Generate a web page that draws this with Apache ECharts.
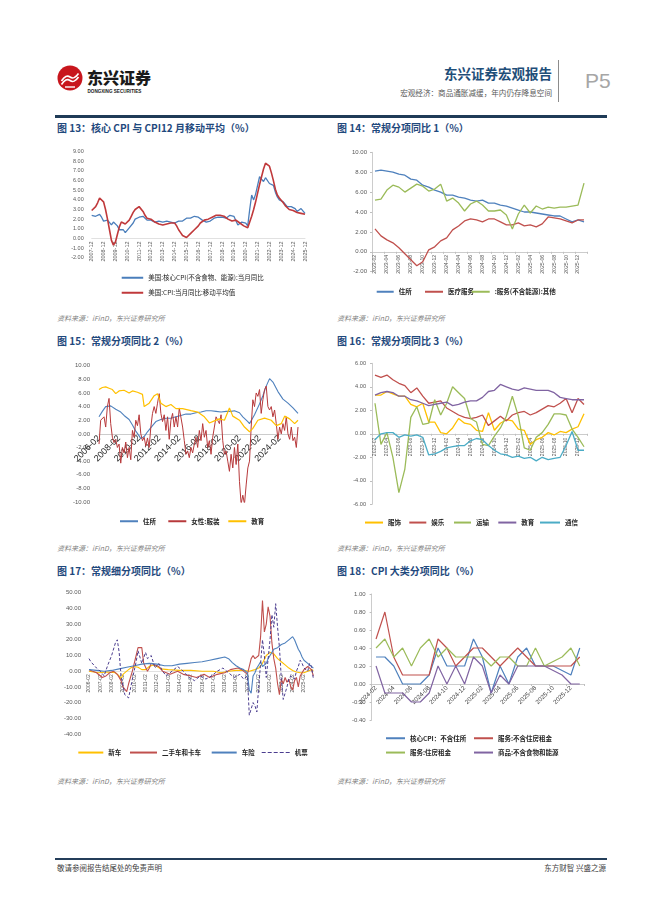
<!DOCTYPE html>
<html><head><meta charset="utf-8">
<script src="https://cdn.jsdelivr.net/npm/echarts/dist/echarts.min.js"></script>
<style>
html,body{margin:0;padding:0;background:#fff;}
body{width:662px;height:898px;position:relative;overflow:hidden;font-family:'Noto Sans CJK SC','Liberation Sans',sans-serif;}
.t{position:absolute;line-height:1;white-space:nowrap;}
.title{font-size:10px;font-weight:bold;color:#1F497D;}
.src{font-size:7px;font-style:italic;color:#7F7F7F;}
.ch{position:absolute;}
</style></head><body>
<!-- header -->
<svg class="t" style="left:57px;top:65px" width="26" height="26" viewBox="0 0 26 26">
<circle cx="13" cy="13" r="12.5" fill="#C8161D"/>
<path d="M4.5 16 Q9 9 13 12 T21.5 8.5" stroke="#fff" stroke-width="1.6" fill="none"/>
<path d="M4.5 19.5 Q9 12.5 13 15.5 T21.5 12" stroke="#fff" stroke-width="1.6" fill="none"/>
<path d="M8 22 L18 22" stroke="#fff" stroke-width="1.4"/>
</svg>
<div class="t" style="left:87px;top:69px;font-size:16px;font-weight:900;color:#1a1a1a;">东兴证券</div>
<div class="t" style="left:87.5px;top:90px;font-size:4.6px;font-weight:bold;color:#1a1a1a;font-family:'Liberation Sans',sans-serif;">DONGXING SECURITIES</div>
<div class="t" style="right:110px;top:67px;font-size:13.5px;font-weight:bold;color:#1F4E79;">东兴证券宏观报告</div>
<div class="t" style="right:110px;top:89px;font-size:7.6px;color:#595959;">宏观经济：商品通胀减缓，年内仍存降息空间</div>
<div class="t" style="left:558px;top:60px;width:1px;height:42px;background:#8C8C8C;"></div>
<div class="t" style="left:585px;top:70px;font-size:21px;color:#A6A6A6;font-family:'Liberation Sans',sans-serif;">P5</div>
<div class="t" style="left:55px;top:115px;width:552px;height:2.5px;background:#1F3B57;"></div>

<!-- titles -->
<div class="t title" style="left:57px;top:123px;">图 13：核心 CPI 与 CPI12 月移动平均（%）</div>
<div class="t title" style="left:337px;top:123px;">图 14：常规分项同比 1（%）</div>
<div class="t title" style="left:57px;top:336px;">图 15：常规分项同比 2（%）</div>
<div class="t title" style="left:337px;top:336px;">图 16：常规分项同比 3（%）</div>
<div class="t title" style="left:57px;top:566px;">图 17：常规细分项同比（%）</div>
<div class="t title" style="left:337px;top:566px;">图 18：CPI 大类分项同比（%）</div>

<div class="t src" style="left:57px;top:315px;">资料来源：iFinD，东兴证券研究所</div>
<div class="t src" style="left:337px;top:315px;">资料来源：iFinD，东兴证券研究所</div>
<div class="t src" style="left:57px;top:545px;">资料来源：iFinD，东兴证券研究所</div>
<div class="t src" style="left:337px;top:545px;">资料来源：iFinD，东兴证券研究所</div>
<div class="t src" style="left:57px;top:778px;">资料来源：iFinD，东兴证券研究所</div>
<div class="t src" style="left:337px;top:778px;">资料来源：iFinD，东兴证券研究所</div>

<div id="c13" class="ch" style="left:50px;top:140px;width:270px;height:172px;"></div>
<div id="c14" class="ch" style="left:330px;top:140px;width:280px;height:172px;"></div>
<div id="c15" class="ch" style="left:50px;top:350px;width:270px;height:192px;"></div>
<div id="c16" class="ch" style="left:330px;top:350px;width:280px;height:192px;"></div>
<div id="c17" class="ch" style="left:50px;top:580px;width:270px;height:195px;"></div>
<div id="c18" class="ch" style="left:330px;top:580px;width:280px;height:195px;"></div>

<!-- footer -->
<div class="t" style="left:55px;top:858px;width:552px;height:1.5px;background:#243E5A;"></div>
<div class="t" style="left:57px;top:863.5px;font-size:7.5px;color:#404040;">敬请参阅报告结尾处的免责声明</div>
<div class="t" style="right:56px;top:863.5px;font-size:7.5px;color:#404040;">东方财智 兴盛之源</div>

<script>
function monthRange(y0, m0, y1, m1, step) {
  const out = []; let y = y0, m = m0;
  while (y < y1 || (y === y1 && m <= m1)) {
    out.push(y + '-' + String(m).padStart(2, '0'));
    m += step; while (m > 12) { m -= 12; y++; }
  }
  return out;
}

// ---------- Fig 13 (bimonthly 2007-12 .. 2025-12) ----------
const fig13Cats = monthRange(2007, 12, 2025, 12, 2);
const fig13Core = [2.4,
 2.3,2.3,2.4,2.5,2.2,1.8, 1.8,1.9,1.7,1.4,1.7,1.8, 1.3,0.9,0.9,0.9,0.6,0.8, 1.1,1.3,1.6,2.0,2.1,2.2,
 2.2,2.3,2.2,1.9,2.0,1.9, 2.0,1.7,1.6,1.8,1.7,1.7, 1.6,1.8,1.9,1.7,1.8,1.6, 1.7,1.8,1.8,1.8,1.9,2.1,
 2.3,2.1,2.2,2.3,2.1,2.2, 2.2,1.9,1.7,1.7,1.8,1.8, 1.8,2.1,2.3,2.2,2.1,2.2, 2.1,2.1,2.1,2.4,2.3,2.3,
 2.4,1.4,1.2,1.7,1.6,1.6, 1.3,3.0,4.5,4.0,4.6,5.5, 6.4,6.2,5.9,6.3,6.3,5.7, 5.5,5.5,4.8,4.3,4.0,3.9,
 3.8,3.6,3.3,3.2,3.3,3.2, 3.1,2.8,2.9,3.1,3.0,2.6];
const fig13CpiMA = [2.9,
 3.1,3.3,3.7,4.2,4.4,3.8, 3.0,2.0,0.9,-0.2,-0.7,-0.4, 0.4,1.2,1.7,1.6,1.5,1.6, 1.9,2.3,2.7,3.0,3.2,3.3,
 3.1,2.8,2.4,2.1,2.0,2.0, 1.9,1.7,1.6,1.5,1.4,1.4, 1.4,1.5,1.6,1.6,1.6,1.6, 1.3,0.9,0.6,0.3,0.1,0.1,
 0.3,0.5,0.7,0.9,1.1,1.3, 1.6,1.8,1.9,2.0,2.0,2.1, 2.2,2.3,2.4,2.4,2.4,2.4, 2.3,2.1,2.0,1.8,1.8,1.8,
 1.9,1.8,1.6,1.4,1.3,1.2, 1.1,1.7,2.3,3.0,3.8,4.7, 5.6,6.4,7.2,7.8,8.0,7.5, 6.8,6.0,5.1,4.5,4.2,4.1,
 3.7,3.4,3.2,3.0,3.0,2.9, 2.8,2.7,2.6,2.6,2.6,2.5];

// ---------- Fig 14 (monthly 2023-02 .. 2026-01) ----------
const fig14Cats = monthRange(2023, 2, 2026, 1, 1);
const fig14Shelter = [8.1,8.2,8.1,8.0,7.8,7.7,7.3,7.2,6.7,6.5,6.2,6.0,5.7,5.7,5.5,5.4,5.2,5.1,5.2,4.9,4.9,4.7,4.6,4.4,4.2,4.0,4.0,3.9,3.8,3.7,3.6,3.6,3.3,3.0,3.2,3.0];
const fig14Medical = [2.3,1.6,1.2,0.9,0.4,-0.2,-0.8,-1.4,-1.0,0.2,0.5,1.1,1.4,2.2,2.6,3.1,3.3,3.2,3.0,3.3,3.3,3.0,2.7,2.7,2.9,2.6,2.7,2.5,2.8,3.5,3.4,3.3,3.1,2.9,3.2,3.2];
const fig14Other = [5.2,5.3,6.2,6.7,6.5,6.0,6.4,6.8,6.6,6.1,6.3,6.8,5.1,5.4,4.9,4.1,4.8,5.1,4.7,4.1,4.1,4.2,3.7,2.3,3.8,4.7,3.9,4.6,4.3,4.5,4.4,4.5,4.5,4.6,4.7,6.9];

// ---------- Fig 15 (bimonthly 2006-02 .. 2025-12) ----------
const fig15Cats = monthRange(2006, 2, 2025, 12, 2);
const fig15Shelter = [['2006-02',2.5],['2006-06',3.3],['2006-10',4.0],['2006-12',4.2],['2007-04',4.1],['2007-10',3.6],['2008-04',3.2],['2008-08',2.7],['2009-02',2.1],['2009-06',1.3],['2009-10',0.4],['2010-02',-0.3],['2010-04',-0.7],['2010-08',-0.4],['2010-12',0.3],['2011-06',1.2],['2011-10',1.8],['2012-04',2.1],['2012-10',2.3],['2013-04',2.3],['2013-10',2.5],['2014-04',2.7],['2014-10',2.9],['2015-04',2.9],['2015-10',3.1],['2016-04',3.2],['2016-10',3.4],['2017-04',3.4],['2017-10',3.3],['2018-04',3.2],['2018-10',3.3],['2019-04',3.3],['2019-08',3.4],['2020-02',3.1],['2020-06',2.5],['2020-12',1.8],['2021-02',1.5],['2021-08',2.8],['2022-02',4.4],['2022-06',5.6],['2022-10',7.0],['2023-02',8.1],['2023-06',7.6],['2023-12',6.2],['2024-06',5.1],['2024-12',4.5],['2025-06',3.8],['2025-12',3.0]];
const fig15Apparel = [
 -1.5,2.0,2.0,2.5,1.0,4.0,5.2,1.5,-0.5,-1.3,
 -0.8,-2.0,-1.5,-4.3,-2.0,-2.8,-1.2,-3.5,-2.0,-3.8,
 0.5,-0.5,2.0,1.2,2.8,0.0,-1.0,-0.5,-1.8,-0.6,
 -2.0,1.0,3.0,4.0,3.0,4.5,5.9,3.0,1.8,2.8,
 0.5,2.5,-0.8,2.0,3.0,1.0,2.5,1.0,3.8,4.0,
 1.0,-1.0,-3.0,-2.5,-3.5,-2.0,-2.8,-1.5,-0.5,-2.0,
 0.5,-1.0,1.5,-0.5,0.5,-2.0,-1.0,-3.0,-0.5,1.0,
 2.5,2.0,1.5,2.8,-1.0,-3.0,-2.5,-4.0,-5.5,-3.0,
 -5.0,-2.0,-4.5,-1.5,-7.0,-10.3,-9.0,-10.3,-7.5,-5.0,
 -4.0,1.0,5.0,4.0,6.0,5.5,6.5,3.0,5.0,6.5,
 7.0,4.0,3.5,4.0,2.5,3.5,1.5,-0.8,1.0,0.0,
 1.5,0.5,2.5,0.0,-0.8,1.0,-1.0,-0.5,-2.0,1.0];
const fig15Education = [['2006-02',6.5],['2006-06',6.8],['2006-10',6.9],['2007-02',6.7],['2007-06',6.5],['2007-10',5.9],['2008-02',6.3],['2008-08',6.4],['2009-02',6.0],['2009-06',6.3],['2009-12',6.1],['2010-06',5.8],['2010-08',4.0],['2011-02',4.5],['2011-08',5.6],['2011-12',5.9],['2012-04',4.5],['2012-10',4.0],['2013-04',4.3],['2013-10',3.7],['2014-06',3.7],['2015-04',3.4],['2015-12',3.2],['2016-08',2.5],['2017-02',1.6],['2017-08',1.9],['2018-02',2.2],['2018-08',2.0],['2019-02',3.8],['2019-06',2.6],['2020-02',2.0],['2020-08',1.0],['2021-02',0.3],['2021-06',0.8],['2021-12',2.0],['2022-08',2.3],['2023-04',2.0],['2023-10',1.2],['2024-04',1.5],['2024-08',2.6],['2025-02',2.2],['2025-08',1.5],['2025-12',2.0]];

// ---------- Fig 16 (monthly 2023-02 .. 2026-01) ----------
const fig16Cats = monthRange(2023, 2, 2026, 1, 1);
const fig16Apparel = [3.3,3.3,3.6,3.4,3.2,3.2,2.5,2.3,2.6,1.0,1.0,0.1,0.0,0.5,1.3,0.9,0.8,0.3,0.2,1.8,0.3,0.9,1.2,1.1,0.4,0.3,-0.9,-0.5,-0.3,0.1,-0.1,0.2,0.1,0.4,0.6,1.7];
const fig16Recreation = [5.0,4.8,5.0,4.6,4.3,4.1,3.5,3.9,3.2,2.6,2.7,2.8,2.2,1.9,1.6,1.4,1.3,1.4,1.6,0.7,1.1,1.5,1.1,1.6,1.8,1.9,1.6,1.8,2.1,2.4,2.3,2.6,3.0,1.8,3.0,2.5];
const fig16Transport = [2.6,-0.9,0.1,-2.0,-5.0,-3.0,1.4,2.3,0.8,0.9,2.9,1.6,2.6,4.0,3.5,3.0,1.3,1.0,-0.9,-1.0,-0.2,0.5,1.5,3.2,1.5,-1.2,-1.4,-0.3,0.1,0.8,1.7,1.7,1.6,0.4,-0.3,-1.1];
const fig16Education = [3.3,3.5,3.6,3.5,3.2,3.2,2.9,2.8,2.6,2.4,2.5,2.6,2.7,2.4,2.5,2.7,2.8,2.8,3.1,3.6,3.7,4.2,4.0,3.8,3.7,3.9,3.8,3.7,3.7,3.7,3.5,3.1,3.0,2.9,2.9,2.9];
const fig16Comm = [-0.5,0.0,0.1,0.1,-0.3,-0.1,-0.2,-0.1,-0.3,-1.8,-1.7,-1.5,-1.2,-1.1,-1.0,-1.0,-0.6,-0.4,-0.5,-1.0,-1.4,-1.7,-1.8,-2.0,-1.9,-2.1,-2.0,-2.3,-2.0,-2.2,-2.1,-2.0,-1.0,0.2,-1.4,-1.4];

// ---------- Fig 17 (bimonthly 2006-02 .. 2025-12) ----------
const fig17Cats = monthRange(2006, 2, 2025, 12, 2);
const fig17NewCar = [['2006-02',0],['2006-12',-1],['2007-10',-0.5],['2008-06',-1],['2008-10',-3],['2008-12',-5],['2009-02',-2],['2009-06',0],['2009-10',2],['2010-02',3],['2010-06',2.5],['2010-10',1],['2011-02',1],['2011-06',3],['2011-10',4],['2012-02',3],['2012-06',1.5],['2013-02',1],['2014-02',0.5],['2015-02',0.5],['2016-02',0],['2017-02',0],['2017-10',-1],['2018-06',0],['2019-02',0.5],['2019-10',0.5],['2020-04',0],['2020-10',1],['2021-02',2],['2021-06',5],['2021-10',10],['2022-02',12],['2022-06',11],['2022-10',8],['2023-02',6],['2023-06',4],['2023-10',2],['2024-02',0.5],['2024-06',-0.5],['2024-10',-1],['2025-02',-1],['2025-06',0],['2025-10',1],['2025-12',0.5]];
const fig17UsedCar = [['2006-02',1],['2006-06',0],['2006-10',-1],['2007-04',-4],['2007-08',-3],['2007-12',-1],['2008-04',0],['2008-08',-2],['2008-12',-6],['2009-02',-10],['2009-06',-13],['2009-08',-8],['2009-12',0],['2010-04',10],['2010-06',15],['2010-08',16],['2010-10',15],['2010-12',5],['2011-04',0],['2011-06',2],['2011-08',5],['2011-12',4],['2012-04',3],['2012-08',0],['2012-10',-1],['2013-04',-2],['2013-12',0],['2014-06',-2],['2015-02',-3],['2015-08',-4],['2016-04',-2],['2016-10',-4],['2017-06',-2],['2018-02',-1],['2018-08',1],['2019-04',2],['2019-08',1],['2020-02',-2],['2020-04',-3],['2020-06',8],['2020-08',10],['2020-10',8],['2020-12',9],['2021-02',10],['2021-04',22],['2021-06',45],['2021-08',25],['2021-10',30],['2021-12',41],['2022-02',35],['2022-04',18],['2022-06',8],['2022-08',2],['2022-10',-8],['2022-12',-15],['2023-02',-5],['2023-04',-8],['2023-06',-4],['2023-08',-7],['2023-10',-5],['2023-12',-10],['2024-02',-12],['2024-04',-6],['2024-06',-4],['2024-08',-10],['2024-10',-3],['2024-12',-2],['2025-02',1],['2025-04',2],['2025-06',3],['2025-08',4],['2025-10',1],['2025-12',-3]];
const fig17Insurance = [['2006-02',1],['2006-10',0.5],['2007-06',0],['2008-02',0.5],['2008-10',1.5],['2009-06',2.5],['2010-02',3.5],['2010-10',4.5],['2011-06',5],['2012-02',4.5],['2012-10',3.5],['2013-06',3.5],['2014-02',4.5],['2014-10',5],['2015-06',5.5],['2016-02',6],['2016-10',7],['2017-06',8],['2018-02',9],['2018-06',8],['2018-10',5.5],['2019-02',3.5],['2019-06',2],['2019-10',1],['2020-02',-1],['2020-04',-12],['2020-06',-14],['2020-08',-3],['2020-10',-1],['2020-12',2],['2021-02',4],['2021-04',6],['2021-06',3],['2021-08',4],['2021-10',5],['2021-12',8],['2022-02',10],['2022-04',12],['2022-06',14],['2022-08',15],['2022-10',15],['2022-12',16],['2023-02',17],['2023-04',18],['2023-06',18],['2023-08',19],['2023-10',20],['2023-12',21],['2024-02',22],['2024-04',20],['2024-06',17],['2024-08',14],['2024-10',12],['2024-12',9],['2025-02',7],['2025-04',6],['2025-06',5],['2025-08',4],['2025-10',3],['2025-12',2]];
const fig17Airfare = [['2006-02',8],['2006-04',6],['2006-06',5],['2006-10',2],['2007-02',0],['2007-06',-3],['2007-10',4],['2008-02',10],['2008-06',18],['2008-08',20],['2008-10',12],['2008-12',-3],['2009-04',-15],['2009-08',-17],['2009-12',-5],['2010-04',6],['2010-06',13],['2010-10',5],['2011-02',12],['2011-04',8],['2011-08',10],['2011-12',2],['2012-04',5],['2012-08',0],['2012-12',-3],['2013-06',0],['2013-12',3],['2014-06',0],['2014-12',-4],['2015-06',-6],['2015-12',-3],['2016-06',-5],['2016-12',-3],['2017-06',0],['2017-12',2],['2018-06',-1],['2018-12',-4],['2019-06',-2],['2019-10',-5],['2020-02',-3],['2020-04',-28],['2020-06',-24],['2020-08',-20],['2020-10',-22],['2020-12',-26],['2021-02',-10],['2021-04',5],['2021-06',20],['2021-08',10],['2021-10',-4],['2021-12',8],['2022-02',20],['2022-04',36],['2022-06',28],['2022-08',43],['2022-10',28],['2022-12',15],['2023-02',-5],['2023-04',-18],['2023-06',-14],['2023-08',-10],['2023-10',-5],['2023-12',-3],['2024-02',-2],['2024-04',-5],['2024-06',0],['2024-08',3],['2024-10',7],['2024-12',5],['2025-02',2],['2025-04',3],['2025-06',0],['2025-08',5],['2025-10',3],['2025-12',-5]];

// ---------- Fig 18 (monthly 2024-02 .. 2026-01) ----------
const fig18Cats = monthRange(2024, 2, 2026, 1, 1);
const fig18CoreExShelter = [0.3,0.3,0.2,0.0,0.0,0.0,0.1,0.4,0.2,0.2,0.2,0.5,0.3,-0.1,0.2,0.0,0.3,0.4,0.2,0.2,0.2,0.15,0.1,0.4];
const fig18ServExRent = [0.5,0.8,0.3,0.1,0.1,0.1,0.1,0.5,0.4,0.2,0.3,0.4,0.4,0.3,0.2,0.3,0.4,0.3,0.2,0.2,0.2,0.2,0.2,0.3];
const fig18Rent = [0.4,0.5,0.3,0.4,0.2,0.4,0.5,0.3,0.4,0.3,0.3,0.3,0.3,0.2,0.3,0.3,0.2,0.2,0.4,0.2,0.25,0.3,0.4,0.2];
const fig18Goods = [0.2,-0.1,-0.1,-0.1,-0.2,-0.2,-0.1,0.2,0.0,0.2,0.0,0.3,0.2,-0.1,0.1,0.0,0.2,0.2,0.2,0.2,0.15,0.1,0.0,0.0];

// ---------- helpers ----------
const NUMF = "'Liberation Sans','Noto Sans CJK SC',sans-serif";
const CJKF = "'Noto Sans CJK SC','Liberation Sans',sans-serif";
const LBL = '#595959';
const AX = '#BFBFBF';
const DASH_ICON = 'path://M0,0h4v1h-4zM6,0h4v1h-4zM12,0h4v1h-4zM18,0h4v1h-4zM24,0h4v1h-4z';

function line(name, data, color, width, dash) {
  return { name, type: 'line', data, symbol: 'none', showSymbol: false, connectNulls: true,
    lineStyle: { color, width, type: dash || 'solid' }, itemStyle: { color }, animation: false, z: 3 };
}
function leg(name, left, top, w, opts) {
  opts = opts || {};
  return { data: [name], left, top, padding: 0, itemGap: 0, itemWidth: w, itemHeight: opts.h || 2,
    icon: opts.icon || 'rect', selectedMode: false,
    textStyle: { fontSize: opts.fs || 6.5, color: '#262626', fontFamily: CJKF, fontWeight: opts.fw || 'normal' } };
}
// x axis drawn at the value-axis zero: shifted up from the grid bottom by the zero's distance
function xCat(data, o, g, ymin, ymax) {
  const off = -g.height * (0 - ymin) / (ymax - ymin);
  return { type: 'category', data, boundaryGap: o.bg, position: 'bottom', offset: off,
    axisLine: { show: true, onZero: false, lineStyle: { color: o.lc || AX, width: 0.8 } },
    axisTick: { show: !!o.tick, length: 2, interval: o.interval, lineStyle: { color: o.lc || AX } },
    axisLabel: { interval: o.interval, rotate: o.rotate, fontSize: o.fs, color: o.color || LBL, margin: o.margin == null ? 3 : o.margin, fontFamily: NUMF, hideOverlap: false },
    splitLine: { show: false } };
}
function yVal(min, max, step, o) {
  return { type: 'value', min, max, interval: step,
    axisLine: { show: !!o.line, onZero: false, lineStyle: { color: AX, width: 0.8 } },
    axisTick: { show: !!o.line, length: 2, lineStyle: { color: AX } },
    axisLabel: { fontSize: o.fs, color: LBL, margin: o.margin, fontFamily: NUMF, formatter: v => v.toFixed(2) },
    splitLine: { show: false } };
}
function grid(left, top, width, height) {
  return { left, top, width, height, containLabel: false, outerBoundsMode: 'none' };
}
function mk(id, opt) {
  const c = echarts.init(document.getElementById(id), null, { renderer: 'canvas' });
  opt.animation = false;
  opt.textStyle = { fontFamily: NUMF };
  c.setOption(opt);
}

// Fig 13
const g13 = grid(41.7, 11.7, 213.3, 106);
mk('c13', {
  grid: g13,
  xAxis: xCat(fig13Cats, { bg: false, interval: 5, rotate: 90, fs: 5.5, lc: '#D9D9D9' }, g13, -2, 9),
  yAxis: yVal(-2, 9, 1, { fs: 5.5, margin: 8 }),
  legend: [
    leg('美国:核心CPI(不含食物、能源):当月同比', 71.7, 134.5, 21.5),
    leg('美国:CPI:当月同比:移动平均值', 71.7, 149.5, 21.5)
  ],
  series: [
    line('美国:核心CPI(不含食物、能源):当月同比', fig13Core, '#4A7EBB', 1.3),
    line('美国:CPI:当月同比:移动平均值', fig13CpiMA, '#C0393B', 1.6)
  ]
});

// Fig 14
const g14 = grid(42, 12.3, 215, 119.4);
mk('c14', {
  grid: g14,
  xAxis: xCat(fig14Cats, { bg: true, interval: 1, rotate: 90, fs: 5.2, tick: true, margin: 3 }, g14, -2, 10),
  yAxis: yVal(-2, 10, 2, { fs: 6, margin: 5, line: true }),
  legend: [
    leg('住所', 46.7, 148.5, 17, { fw: 'bold' }),
    leg('医疗服务', 95, 148.5, 18, { fw: 'bold' }),
    leg(':服务(不含能源):其他', 141.7, 148.5, 18, { fw: 'bold' })
  ],
  series: [
    line('住所', fig14Shelter, '#4F81BD', 1.3),
    line('医疗服务', fig14Medical, '#C0504D', 1.3),
    line(':服务(不含能源):其他', fig14Other, '#9BBB59', 1.3)
  ]
});

// Fig 15
const g15 = grid(49, 15.7, 199, 136.3);
mk('c15', {
  grid: g15,
  xAxis: xCat(fig15Cats, { bg: false, interval: 11, rotate: 45, fs: 9, color: '#262626', margin: 3 }, g15, -10, 10),
  yAxis: yVal(-10, 10, 2, { fs: 6, margin: 9 }),
  legend: [
    leg('住所', 70, 168, 18, { fw: 'bold' }),
    leg('女性:服装', 118.3, 168, 18, { fw: 'bold' }),
    leg('教育', 178.3, 168, 18, { fw: 'bold' })
  ],
  series: [
    line('住所', fig15Shelter, '#4F81BD', 1.1),
    line('女性:服装', fig15Apparel, '#B7393B', 1.0),
    line('教育', fig15Education, '#FFC000', 1.2)
  ]
});

// Fig 16
const g16 = grid(42, 13.3, 215, 141);
mk('c16', {
  grid: g16,
  xAxis: xCat(fig16Cats, { bg: true, interval: 1, rotate: 90, fs: 5, tick: true, margin: 4 }, g16, -6, 6),
  yAxis: yVal(-6, 6, 2, { fs: 5.6, margin: 6, line: true }),
  legend: [
    leg('服饰', 35, 169.3, 18, { fw: 'bold' }),
    leg('娱乐', 79.3, 169.3, 17, { fw: 'bold' }),
    leg('运输', 124, 169.3, 17, { fw: 'bold' }),
    leg('教育', 168.3, 169.3, 18, { fw: 'bold' }),
    leg('通信', 210, 169.3, 20, { fw: 'bold' })
  ],
  series: [
    line('服饰', fig16Apparel, '#FFC000', 1.3),
    line('娱乐', fig16Recreation, '#C0504D', 1.3),
    line('运输', fig16Transport, '#9BBB59', 1.3),
    line('教育', fig16Education, '#8064A2', 1.3),
    line('通信', fig16Comm, '#4BACC6', 1.3)
  ]
});

// Fig 17
const g17 = grid(39, 12.7, 224.4, 141.3);
mk('c17', {
  grid: g17,
  xAxis: xCat(fig17Cats, { bg: false, interval: 5, rotate: 90, fs: 5, lc: '#D9D9D9', margin: 3 }, g17, -40, 50),
  yAxis: yVal(-40, 50, 10, { fs: 6, margin: 8 }),
  legend: [
    leg('新车', 28.3, 169.3, 25, { fw: 'bold' }),
    leg('二手车和卡车', 80, 169.3, 27, { fw: 'bold' }),
    leg('车险', 161.7, 169.3, 25, { fw: 'bold' }),
    leg('机票', 211.7, 169.3, 28, { fw: 'bold', icon: DASH_ICON })
  ],
  series: [
    line('新车', fig17NewCar, '#FFC000', 1.1),
    line('二手车和卡车', fig17UsedCar, '#C0504D', 1.1),
    line('车险', fig17Insurance, '#4F81BD', 1.1),
    line('机票', fig17Airfare, '#4B3D8F', 1.0, [3, 2])
  ]
});

// Fig 18
const g18 = grid(41.6, 14, 212.6, 126);
mk('c18', {
  grid: g18,
  xAxis: xCat(fig18Cats, { bg: true, interval: 1, rotate: 45, fs: 6.3, tick: true, color: '#404040', margin: 3 }, g18, -0.4, 1.0),
  yAxis: yVal(-0.4, 1.0, 0.2, { fs: 6, margin: 6, line: true }),
  legend: [
    leg('核心CPI：不含住所', 56, 155, 19, { fw: 'bold' }),
    leg('服务:不含住房租金', 144, 155, 19, { fw: 'bold' }),
    leg('服务:住房租金', 56, 169.3, 19, { fw: 'bold' }),
    leg('商品:不含食物和能源', 144, 169.3, 19, { fw: 'bold' })
  ],
  series: [
    line('核心CPI：不含住所', fig18CoreExShelter, '#4F81BD', 1.2),
    line('服务:不含住房租金', fig18ServExRent, '#C0504D', 1.2),
    line('服务:住房租金', fig18Rent, '#9BBB59', 1.2),
    line('商品:不含食物和能源', fig18Goods, '#8064A2', 1.2)
  ]
});
</script>
</body></html>
